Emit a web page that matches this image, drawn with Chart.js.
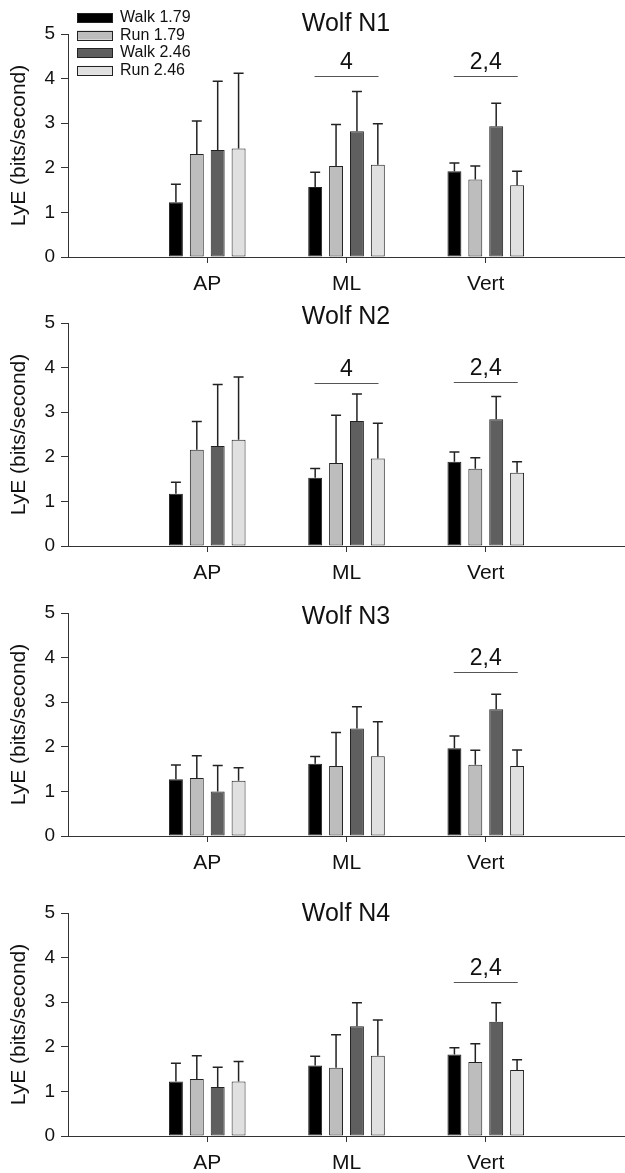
<!DOCTYPE html>
<html>
<head>
<meta charset="utf-8">
<script src="https://cdn.jsdelivr.net/npm/chart.js@4.4.1/dist/chart.umd.min.js"></script>
<style>
  body { margin: 0; background: #fff; }
  .panel { position: absolute; left: 0; }
</style>
</head>
<body>
<div class="panel" style="top:0px"><canvas id="c0" width="625" height="290"></canvas></div>
<div class="panel" style="top:290px"><canvas id="c1" width="625" height="289"></canvas></div>
<div class="panel" style="top:579px"><canvas id="c2" width="625" height="290"></canvas></div>
<div class="panel" style="top:869px"><canvas id="c3" width="625" height="304"></canvas></div>
<script>
// Data (one row per wolf panel, columns AP / ML / Vert)
const categories = ["AP", "ML", "Vert"];
const seriesNames = ["Walk 1.79", "Run 1.79", "Walk 2.46", "Run 2.46"];
const panelTitles = ["Wolf N1", "Wolf N2", "Wolf N3", "Wolf N4"];
const yTicks = [0, 1, 2, 3, 4, 5];

const walk179Mean = [[1.23, 1.57, 1.92], [1.17, 1.53, 1.89], [1.27, 1.62, 1.97], [1.22, 1.58, 1.83]];
const run179Mean  = [[2.31, 2.04, 1.74], [2.16, 1.86, 1.73], [1.30, 1.57, 1.60], [1.28, 1.53, 1.66]];
const walk246Mean = [[2.40, 2.82, 2.93], [2.24, 2.80, 2.84], [1.00, 2.41, 2.84], [1.10, 2.46, 2.56]];
const run246Mean  = [[2.43, 2.07, 1.61], [2.38, 1.96, 1.64], [1.24, 1.79, 1.57], [1.22, 1.80, 1.48]];

const walk179Sd = [[0.40, 0.33, 0.19], [0.26, 0.21, 0.22], [0.32, 0.16, 0.27], [0.41, 0.21, 0.15]];
const run179Sd  = [[0.74, 0.93, 0.30], [0.63, 1.07, 0.25], [0.50, 0.75, 0.32], [0.52, 0.74, 0.41]];
const walk246Sd = [[1.54, 0.89, 0.52], [1.38, 0.61, 0.51], [0.58, 0.49, 0.34], [0.44, 0.53, 0.43]];
const run246Sd  = [[1.69, 0.92, 0.31], [1.41, 0.79, 0.25], [0.29, 0.77, 0.36], [0.45, 0.80, 0.23]];

// significance marks above each category, and the level of the line
const sigText  = [["", "4", "2,4"], ["", "4", "2,4"], ["", "", "2,4"], ["", "", "2,4"]];
const sigLevel = [[null, 4.06, 4.06], [null, 3.65, 3.68], [null, null, 3.67], [null, null, 3.46]];

const means = [walk179Mean, run179Mean, walk246Mean, run246Mean];
const sds = [walk179Sd, run179Sd, walk246Sd, run246Sd];
const fills = ["#000000", "#bdbdbd", "#5f5f5f", "#e0e0e0"];

// layout per panel
const panelLayout = [
    { top: 34, xh: 33, titleDy: -10, legend: true },
    { top: 33, xh: 33, titleDy: -6, legend: false },
    { top: 34, xh: 33, titleDy: 4, legend: false },
    { top: 44, xh: 37, titleDy: 1, legend: false },
];

const FONT = "'Liberation Sans', Arial, sans-serif";
Chart.defaults.font.family = FONT;
Chart.defaults.color = "#222";

// padded labels so the three categories sit at 1/4, 2/4, 3/4 of the axis
const xLabels = ["", ...categories, ""];
function pad(row) {
    return [null, ...row, null];
}

// upper error bars
const errorBars = {
    id: "errorBars",
    afterDatasetsDraw(chart) {
        const ctx = chart.ctx;
        const y = chart.scales.y;
        ctx.save();
        ctx.strokeStyle = "#222";
        ctx.lineWidth = 1.5;
        chart.data.datasets.forEach((ds, i) => {
            const meta = chart.getDatasetMeta(i);
            meta.data.forEach((bar, j) => {
                const v = ds.data[j];
                if (v == null) return;
                const yt = y.getPixelForValue(v + ds.sd[j]);
                ctx.beginPath();
                ctx.moveTo(bar.x, bar.y);
                ctx.lineTo(bar.x, yt);
                ctx.moveTo(bar.x - 5, yt);
                ctx.lineTo(bar.x + 5, yt);
                ctx.stroke();
            });
        });
        ctx.restore();
    }
};

// title, significance marks and legend
const decor = {
    id: "decor",
    afterDraw(chart, args, opts) {
        const ctx = chart.ctx;
        const x = chart.scales.x;
        const y = chart.scales.y;
        const area = chart.chartArea;
        ctx.save();
        ctx.fillStyle = "#111";
        ctx.textAlign = "center";
        ctx.textBaseline = "middle";
        ctx.font = "25px " + FONT;
        ctx.fillText(opts.title, 346, area.top + opts.titleDy);

        ctx.font = "23px " + FONT;
        ctx.strokeStyle = "#555";
        ctx.lineWidth = 1;
        opts.sigText.forEach((t, k) => {
            if (!t) return;
            const cx = x.getPixelForValue(k + 1);
            const ly = Math.round(y.getPixelForValue(opts.sigLevel[k])) + 0.5;
            ctx.beginPath();
            ctx.moveTo(cx - 32, ly);
            ctx.lineTo(cx + 32, ly);
            ctx.stroke();
            ctx.textBaseline = "alphabetic";
            ctx.fillText(t, cx, ly - 8);
        });

        if (opts.legend) {
            ctx.font = "16px " + FONT;
            ctx.textAlign = "left";
            ctx.textBaseline = "middle";
            chart.data.datasets.forEach((ds, i) => {
                const ry = 17.5 + i * 17.6;
                ctx.fillStyle = ds.backgroundColor;
                ctx.fillRect(77, ry - 4.5, 36, 9);
                ctx.strokeStyle = "#222";
                ctx.strokeRect(77.5, Math.round(ry - 4.5) + 0.5, 35, 9);
                ctx.fillStyle = "#111";
                ctx.fillText(ds.label, 120, ry);
            });
        }
        ctx.restore();
    }
};

panelTitles.forEach((title, p) => {
    const lay = panelLayout[p];
    const datasets = seriesNames.map((name, s) => ({
        label: name,
        data: pad(means[s][p]),
        sd: pad(sds[s][p]),
        backgroundColor: fills[s],
        borderColor: "#222",
        borderWidth: 1,
        borderSkipped: false,
        categoryPercentage: 0.6,
        barPercentage: 0.667,
    }));

    new Chart(document.getElementById("c" + p), {
        type: "bar",
        data: { labels: xLabels, datasets: datasets },
        plugins: [errorBars, decor],
        options: {
            responsive: false,
            animation: false,
            devicePixelRatio: 1,
            layout: { padding: { top: lay.top, left: 0, right: 0, bottom: 0 } },
            plugins: {
                legend: { display: false },
                tooltip: { enabled: false },
                decor: {
                    title: title,
                    titleDy: lay.titleDy,
                    legend: lay.legend,
                    sigText: sigText[p],
                    sigLevel: sigLevel[p],
                },
            },
            scales: {
                x: {
                    type: "category",
                    offset: false,
                    afterFit: (scale) => {
                        scale.height = lay.xh;
                        scale.paddingLeft = 0;
                        scale.paddingRight = 0;
                    },
                    grid: {
                        offset: false,
                        drawOnChartArea: false,
                        tickLength: 6,
                        tickColor: (c) => (c.index > 0 && c.index < xLabels.length - 1 ? "#333" : "rgba(0,0,0,0)"),
                    },
                    border: { display: true, color: "#333", width: 1 },
                    ticks: {
                        autoSkip: false,
                        maxRotation: 0,
                        padding: 9,
                        font: { size: 21 },
                        color: "#111",
                    },
                },
                y: {
                    min: yTicks[0],
                    max: yTicks[yTicks.length - 1],
                    afterFit: (scale) => { scale.width = 68; },
                    afterBuildTicks: (scale) => { scale.ticks = yTicks.map((v) => ({ value: v })); },
                    grid: { drawOnChartArea: false, tickLength: 7, tickColor: "#333" },
                    border: { display: true, color: "#333", width: 1 },
                    ticks: { padding: 6, font: { size: 19 }, color: "#111" },
                    title: {
                        display: true,
                        text: "LyE (bits/second)",
                        font: { size: 21 },
                        color: "#111",
                        padding: { top: 7, bottom: 0 },
                    },
                },
            },
        },
    });
});
</script>
</body>
</html>
